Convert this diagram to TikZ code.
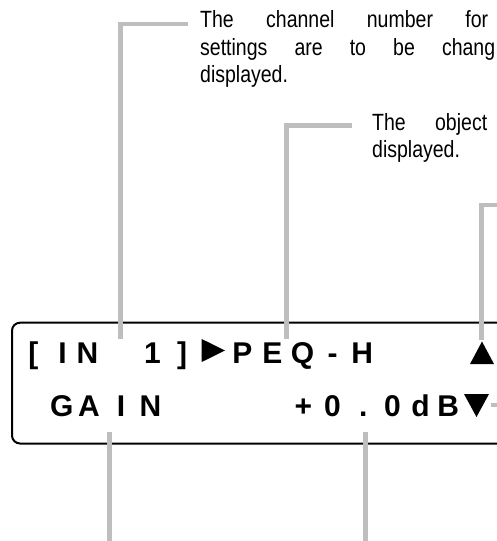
\documentclass[tikz,border=0pt]{standalone}
\usepackage{fontspec}
\setmainfont{Liberation Sans}
\newfontfamily\annfont{Liberation Sans}[FakeStretch=0.83]
\definecolor{calloutgrey}{HTML}{BEBEBE}
\tikzset{
  callout/.style={draw=calloutgrey, line width=4.5pt},
  lcdbox/.style={draw=black, line width=2pt, rounded corners=8pt},
  lcdchar/.style={inner sep=0pt, anchor=base, font=\fontsize{30}{36}\selectfont\bfseries},
  anntext/.style={inner sep=0pt, anchor=base west, font=\annfont\fontsize{23.5}{27.5}\selectfont},
  tri/.style={fill=black, draw=none}
}
\begin{document}
\begin{tikzpicture}[x=1pt,y=-1pt]
\useasboundingbox (0,0) rectangle (497,541);
\clip (0,0) rectangle (497,541);
% annotation texts
\node[anntext] (t1a) at (200,27) {\makebox[288pt][s]{The channel number for}};
\node[anntext] (t1b) at (200,55) {\makebox[295pt][s]{settings are to be chang}};
\node[anntext] (t1c) at (200,82) {displayed.};
\node[anntext] (t2a) at (372,130) {\makebox[115pt][s]{The object}};
\node[anntext] (t2b) at (372,157.5) {displayed.};
% LCD box
\draw[lcdbox] (12,322.7) rectangle (530,443.5);
% row 1
\foreach \cx/\ch [count=\i] in {33.3/[, 62.5/I, 87.5/N, 152.5/1, 182/], 242.5/P, 272.5/E, 302.5/Q, 332.5/-, 362.3/H}
  \node[lcdchar] (ra\i) at (\cx,363.3) {\ch};
% row 2
\foreach \cx/\ch [count=\i] in {61.7/G, 89/A, 121/I, 150.5/N, 303.5/+, 332.5/0, 363.3/., 392.5/0, 420.5/d, 448.3/B}
  \node[lcdchar] (rb\i) at (\cx,416) {\ch};
% triangles
\fill[tri] (201.7,339) -- (225,350.5) -- (201.7,362) -- cycle;
\fill[tri] (470,364) -- (482,341.5) -- (494,364) -- cycle;
\fill[tri] (464,394) -- (489,394) -- (476.5,417) -- cycle;
% callouts
\coordinate (p1) at (120.5,339);
\coordinate (p2) at (286.5,339);
\coordinate (p3) at (481.5,340);
\coordinate (e3) at (520,205);
\coordinate (b1) at (109.5,432);
\coordinate (b1e) at (109.5,545);
\coordinate (b2) at (365.5,432);
\coordinate (b2e) at (365.5,545);
\coordinate (r1) at (491,405);
\coordinate (r1e) at (520,405);
\draw[callout] ([shift={(-12,-3)}]t1a.base west) -| (p1);
\draw[callout] ([shift={(-20,-4.5)}]t2a.base west) -| (p2);
\draw[callout] (e3) -| (p3);
\draw[callout] (b1) -- (b1e);
\draw[callout] (b2) -- (b2e);
\draw[callout] (r1) -- (r1e);
\end{tikzpicture}
\end{document}
